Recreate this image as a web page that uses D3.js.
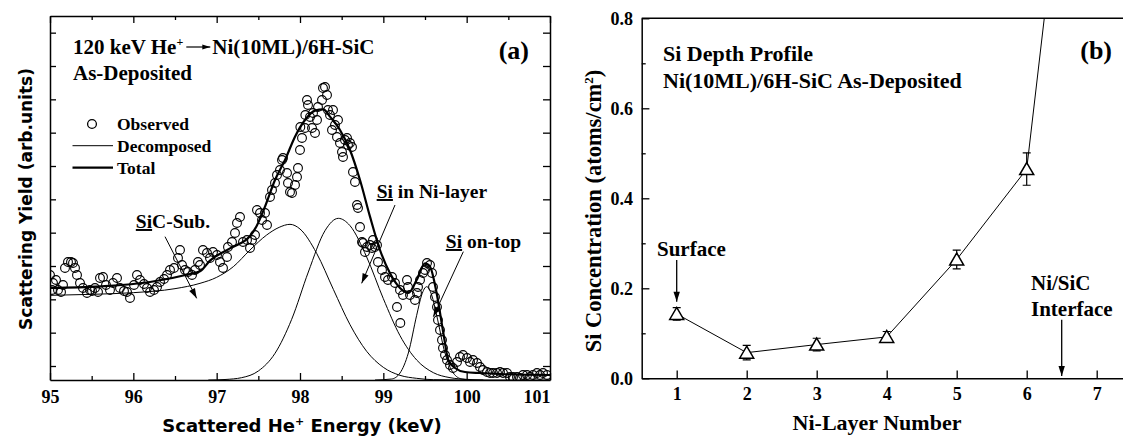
<!DOCTYPE html>
<html><head><meta charset="utf-8">
<script src="https://cdn.jsdelivr.net/npm/d3@7"></script>
<style>
body{margin:0;background:#fff;}
svg{display:block;}
text{font-family:"Liberation Serif","Times New Roman",serif;font-weight:bold;fill:#000;}
</style></head><body>
<svg id="chart" width="1123" height="439"></svg>
<script>
// ---------------- Panel (a) data ----------------
const energyTicks = [95, 96, 97, 98, 99, 100, 101];
const energyMinorTicks = [95.5, 96.5, 97.5, 98.5, 99.5, 100.5];
const yieldTicks = [42, 142, 242, 342, 442, 542, 642, 742, 842, 942, 1042];

// observed yield: [energy keV, yield arb.units]
const observed = [
[95.000,315],[95.024,270],[95.036,291],[95.072,300],[95.096,270],[95.132,264],[95.156,285],[95.180,336],
[95.216,354],[95.252,354],[95.276,351],[95.300,336],[95.324,315],[95.360,291],[95.396,276],[95.444,261],
[95.480,270],[95.504,267],[95.540,276],[95.576,264],[95.600,306],[95.636,309],[95.672,285],[95.720,270],
[95.756,291],[95.804,306],[95.840,276],[95.888,267],[95.924,264],[95.960,246],[96.008,285],[96.044,315],
[96.080,300],[96.128,288],[96.164,276],[96.200,264],[96.248,270],[96.284,279],[96.320,294],[96.368,303],
[96.404,315],[96.440,330],[96.488,336],[96.536,366],[96.560,390],[96.584,345],[96.620,330],[96.656,324],
[96.704,315],[96.740,330],[96.776,354],[96.800,345],[96.836,390],[96.884,381],[96.920,366],[96.956,384],
[97.004,375],[97.040,354],[97.076,336],[97.124,369],[97.136,399],[97.184,414],[97.220,441],[97.244,471],
[97.280,489],[97.316,414],[97.364,420],[97.400,396],[97.424,420],[97.460,435],[97.484,510],[97.520,501],
[97.544,480],[97.580,501],[97.604,465],[97.640,549],[97.664,570],[97.700,591],[97.724,615],[97.760,630],
[97.784,660],[97.796,666],[97.844,621],[97.856,591],[97.880,564],[97.904,561],[97.940,585],[97.964,609],
[97.976,636],[98.000,690],[98.004,759],[98.024,726],[98.060,756],[98.064,795],[98.084,840],[98.096,825],
[98.120,789],[98.144,756],[98.156,801],[98.180,741],[98.204,780],[98.216,819],[98.264,840],[98.276,876],
[98.300,879],[98.324,855],[98.336,810],[98.360,795],[98.384,750],[98.396,810],[98.420,765],[98.444,729],
[98.456,780],[98.480,711],[98.504,684],[98.516,669],[98.540,720],[98.564,726],[98.576,705],[98.600,711],
[98.624,699],[98.636,624],[98.660,594],[98.684,525],[98.696,516],[98.720,459],[98.744,414],[98.756,411],
[98.780,384],[98.804,399],[98.840,405],[98.864,396],[98.876,420],[98.900,399],[98.924,405],[98.936,354],
[98.984,330],[99.020,309],[99.056,300],[99.104,309],[99.140,291],[99.164,219],[99.200,270],[99.204,171],
[99.236,255],[99.284,300],[99.296,279],[99.320,255],[99.380,240],[99.404,261],[99.416,279],[99.440,300],
[99.476,321],[99.500,330],[99.524,351],[99.560,345],[99.584,321],[99.596,279],[99.620,249],[99.644,219],
[99.656,180],[99.680,150],[99.704,120],[99.716,96],[99.740,75],[99.764,60],[99.800,45],[99.836,36],
[99.884,54],[99.920,69],[99.956,75],[100.004,66],[100.040,54],[100.076,60],[100.124,51],[100.160,39],
[100.196,30],[100.244,24],[100.280,21],[100.316,21],[100.364,21],[100.400,24],[100.436,21],[100.484,21],
[100.520,9],[100.556,9],[100.604,9],[100.640,6],[100.676,15],[100.724,15],[100.760,9],[100.796,15],
[100.844,21],[100.880,15],[100.916,21],[100.964,15]
];

// decomposed components and total fit
const sicSub = [[95.0,254],[95.5,257],[96.0,262],[96.5,274],[96.8,290],[97.0,308],[97.2,340],[97.4,390],
[97.6,435],[97.75,458],[97.88,467],[98.0,453],[98.2,380],[98.4,272],[98.6,166],[98.8,86],[99.0,38],
[99.2,14],[99.4,5],[99.6,1],[100.0,0],[101.0,0]];
const siNiLayer = [[96.9,0],[97.1,1.5],[97.3,7],[97.5,27],[97.7,80],[97.9,182],[98.1,324],[98.3,448],
[98.46,485],[98.6,463],[98.8,369],[99.0,244],[99.2,133],[99.4,60],[99.6,22],[99.8,7],[100.0,2],[100.2,0]];
const siOnTop = [[98.9,0],[99.1,3],[99.2,21],[99.3,81],[99.4,194],[99.46,255],[99.52,280],[99.58,255],
[99.64,194],[99.74,81],[99.84,21],[99.94,3],[100.05,0]];
const totalFit = [[95.0,276],[95.6,281],[96.2,294],[96.68,318],[96.8,326],[96.92,358],[97.16,395],
[97.4,432],[97.48,462],[97.58,520],[97.7,600],[97.82,660],[97.94,730],[98.06,780],[98.18,808],[98.28,812],
[98.36,790],[98.48,750],[98.6,690],[98.72,600],[98.84,490],[98.96,390],[99.08,320],[99.2,276],[99.3,261],
[99.4,300],[99.5,350],[99.56,340],[99.64,260],[99.72,141],[99.78,60],[99.86,36],[99.98,24],[100.16,21],
[100.4,18],[101.0,15]];

// ---------------- Panel (b) data ----------------
const layers = [1, 2, 3, 4, 5, 6, 7];
const siConc = [0.143, 0.057, 0.075, 0.092, 0.264, 0.465, 1.8];
const siErr = [0.014, 0.016, 0.014, 0.012, 0.021, 0.036, 0];
const layerTicks = [1, 2, 3, 4, 5, 6, 7];
const concTicks = [0, 0.2, 0.4, 0.6, 0.8];
const concMinorTicks = [0.1, 0.3, 0.5, 0.7];

// ---------------- drawing ----------------
const svg = d3.select("#chart");
const SERIF = '"Liberation Serif","Times New Roman",serif';
const SANS = '"DejaVu Sans",Verdana,sans-serif';

function arrow(g, x1, y1, x2, y2, len = 10, hw = 3.2, sw = 1) {
  g.append("line").attr("x1", x1).attr("y1", y1).attr("x2", x2).attr("y2", y2)
    .attr("stroke", "#000").attr("stroke-width", sw);
  const a = Math.atan2(y2 - y1, x2 - x1);
  const bx = x2 - len * Math.cos(a), by = y2 - len * Math.sin(a);
  const px = -Math.sin(a) * hw, py = Math.cos(a) * hw;
  g.append("path").attr("d", `M${x2},${y2}L${bx + px},${by + py}L${bx - px},${by - py}Z`).attr("fill", "#000");
}
function styleAxis(g, fs) {
  g.attr("font-family", null).attr("font-size", null);
  g.select(".domain").attr("stroke", "#000").attr("stroke-width", 1.5);
  g.selectAll(".tick line").attr("stroke", "#000").attr("stroke-width", 1.3);
  g.selectAll(".tick text").style("font-family", SERIF).style("font-weight", "bold").style("font-size", fs + "px");
}

// ===== Panel (a) =====
const xa = d3.scaleLinear().domain([95, 101]).range([50, 550]);
const ya = d3.scaleLinear().domain([0, 1092]).range([380, 16]);
const gA = svg.append("g");
gA.append("defs").append("clipPath").attr("id", "clipA").append("rect")
  .attr("x", 50).attr("y", 16).attr("width", 500).attr("height", 364);
const plotA = gA.append("g").attr("clip-path", "url(#clipA)");
const lineA = d3.line().x(d => xa(d[0])).y(d => ya(d[1])).curve(d3.curveMonotoneX);
[sicSub, siNiLayer, siOnTop].forEach(c => plotA.append("path").attr("d", lineA(c))
  .attr("fill", "none").attr("stroke", "#000").attr("stroke-width", 1));
plotA.append("path").attr("d", lineA(totalFit)).attr("fill", "none").attr("stroke", "#000").attr("stroke-width", 2.2);
plotA.selectAll("circle.obs").data(observed).join("circle").attr("class", "obs")
  .attr("cx", d => xa(d[0])).attr("cy", d => ya(d[1])).attr("r", 4.4)
  .attr("fill", "none").attr("stroke", "#000").attr("stroke-width", 1.1);

// axes (a)
const axB = gA.append("g").attr("transform", "translate(0,380)")
  .call(d3.axisBottom(xa).tickValues(energyTicks).tickSizeInner(-7).tickSizeOuter(0).tickPadding(10).tickFormat(d3.format("d")));
styleAxis(axB, 18);
axB.selectAll(".tick text").filter(d => d === 101).attr("text-anchor", "end");
const axBm = gA.append("g").attr("transform", "translate(0,380)")
  .call(d3.axisBottom(xa).tickValues(energyMinorTicks).tickSize(-4).tickFormat(""));
styleAxis(axBm, 18); axBm.select(".domain").remove();
const axT = gA.append("g").attr("transform", "translate(0,16)")
  .call(d3.axisTop(xa).tickValues(energyTicks).tickSizeInner(-7).tickSizeOuter(0).tickFormat(""));
styleAxis(axT, 18);
const axTm = gA.append("g").attr("transform", "translate(0,16)")
  .call(d3.axisTop(xa).tickValues(energyMinorTicks).tickSize(-4).tickFormat(""));
styleAxis(axTm, 18); axTm.select(".domain").remove();
const axL = gA.append("g").attr("transform", "translate(50,0)")
  .call(d3.axisLeft(ya).tickValues(yieldTicks).tickSizeInner(-6).tickSizeOuter(0).tickFormat(""));
styleAxis(axL, 18);
const axR = gA.append("g").attr("transform", "translate(550,0)")
  .call(d3.axisRight(ya).tickValues(yieldTicks).tickSizeInner(-7).tickSizeOuter(0).tickFormat(""));
styleAxis(axR, 18);

// axis titles (a)
gA.append("text").attr("transform", "translate(32,199) rotate(-90)").attr("text-anchor", "middle")
  .style("font-family", SANS).style("font-size", "17px").text("Scattering Yield (arb.units)");
const xt = gA.append("text").attr("x", 302).attr("y", 432).attr("text-anchor", "middle")
  .style("font-family", SANS).style("font-size", "18px");
xt.append("tspan").text("Scattered He");
xt.append("tspan").attr("dy", -7).style("font-size", "11px").text("+");
xt.append("tspan").attr("dy", 7).text(" Energy (keV)");

// title (a)
const t1 = gA.append("text").attr("x", 73).attr("y", 54).style("font-size", "21px");
t1.append("tspan").text("120 keV He");
t1.append("tspan").attr("dy", -8).style("font-size", "12px").text("+");
const t1len = t1.node().getComputedTextLength();
arrow(gA, 73 + t1len + 3, 47, 73 + t1len + 27, 47, 8, 2.6, 1.2);
gA.append("text").attr("x", 73 + t1len + 29).attr("y", 54).style("font-size", "21px").text("Ni(10ML)/6H-SiC");
gA.append("text").attr("x", 73).attr("y", 80).style("font-size", "21px").text("As-Deposited");
gA.append("text").attr("x", 529).attr("y", 59).attr("text-anchor", "end").style("font-size", "26px").text("(a)");

// legend (a)
gA.append("circle").attr("cx", 92).attr("cy", 124).attr("r", 4.4).attr("fill", "none").attr("stroke", "#000").attr("stroke-width", 1.3);
gA.append("text").attr("x", 117).attr("y", 129.5).style("font-size", "17.5px").text("Observed");
gA.append("line").attr("x1", 72.5).attr("x2", 113).attr("y1", 145.7).attr("y2", 145.7).attr("stroke", "#000").attr("stroke-width", 1);
gA.append("text").attr("x", 117).attr("y", 152).style("font-size", "17.5px").text("Decomposed");
gA.append("line").attr("x1", 72.5).attr("x2", 113).attr("y1", 167.7).attr("y2", 167.7).attr("stroke", "#000").attr("stroke-width", 2.2);
gA.append("text").attr("x", 117).attr("y", 174).style("font-size", "17.5px").text("Total");

// component annotations (a)
function annot(g, x, y, rest) {
  const t = g.append("text").attr("x", x).attr("y", y).style("font-size", "19.5px");
  t.append("tspan").style("text-decoration", "underline").text("Si");
  t.append("tspan").text(rest);
}
annot(gA, xa(96.03), ya(456), "C-Sub.");
arrow(gA, xa(96.38), ya(430), xa(96.76), ya(245));
annot(gA, xa(98.92), ya(546), " in Ni-layer");
arrow(gA, xa(99.14), ya(525), xa(98.74), ya(290));
annot(gA, xa(99.75), ya(396), " on-top");
arrow(gA, xa(99.96), ya(385), xa(99.6), ya(190));

// ===== Panel (b) =====
const xb = d3.scaleLinear().domain([0.5, 7.5]).range([641.7, 1131.7]);
const yb = d3.scaleLinear().domain([0, 0.8]).range([378.3, 18.3]);
const gB = svg.append("g");
gB.append("defs").append("clipPath").attr("id", "clipB").append("rect")
  .attr("x", 641.7).attr("y", 18.3).attr("width", 490).attr("height", 360);
const plotB = gB.append("g").attr("clip-path", "url(#clipB)");
const pts = layers.map((l, i) => ({ x: l, y: siConc[i], e: siErr[i] }));
plotB.append("path").attr("d", d3.line().x(d => xb(d.x)).y(d => yb(d.y))(pts))
  .attr("fill", "none").attr("stroke", "#000").attr("stroke-width", 1);
const eb = plotB.selectAll("g.eb").data(pts.filter(d => d.e > 0)).join("g").attr("class", "eb");
eb.append("line").attr("x1", d => xb(d.x)).attr("x2", d => xb(d.x)).attr("y1", d => yb(d.y - d.e)).attr("y2", d => yb(d.y + d.e)).attr("stroke", "#000").attr("stroke-width", 1.2);
eb.append("line").attr("x1", d => xb(d.x) - 4).attr("x2", d => xb(d.x) + 4).attr("y1", d => yb(d.y - d.e)).attr("y2", d => yb(d.y - d.e)).attr("stroke", "#000").attr("stroke-width", 1.2);
eb.append("line").attr("x1", d => xb(d.x) - 4).attr("x2", d => xb(d.x) + 4).attr("y1", d => yb(d.y + d.e)).attr("y2", d => yb(d.y + d.e)).attr("stroke", "#000").attr("stroke-width", 1.2);
plotB.selectAll("path.tri").data(pts).join("path").attr("class", "tri")
  .attr("transform", d => `translate(${xb(d.x)},${yb(d.y)})`)
  .attr("d", "M0,-6.5L7,5.5L-7,5.5Z").attr("fill", "#fff").attr("stroke", "#000").attr("stroke-width", 1.5);

// axes (b)
const bxB = gB.append("g").attr("transform", "translate(0,378.3)")
  .call(d3.axisBottom(xb).tickValues(layerTicks).tickSizeInner(-7.7).tickSizeOuter(0).tickPadding(9).tickFormat(d3.format("d")));
styleAxis(bxB, 18);
const byL = gB.append("g").attr("transform", "translate(641.7,0)")
  .call(d3.axisLeft(yb).tickValues(concTicks).tickSizeInner(-7.7).tickSizeOuter(0).tickPadding(8.7).tickFormat(d3.format(".1f")));
styleAxis(byL, 18);
const byLm = gB.append("g").attr("transform", "translate(641.7,0)")
  .call(d3.axisLeft(yb).tickValues(concMinorTicks).tickSize(-4).tickFormat(""));
styleAxis(byLm, 18); byLm.select(".domain").remove();
gB.append("path").attr("d", `M${xb(0.5)},${yb(0.8)}H${xb(7.5)}V${yb(0)}`).attr("fill", "none").attr("stroke", "#000").attr("stroke-width", 1.5);

// axis titles (b)
const ybt = gB.append("text").attr("transform", "translate(601,211) rotate(-90)").attr("text-anchor", "middle").style("font-size", "22.5px");
ybt.append("tspan").text("Si Concentration (atoms/cm");
ybt.append("tspan").attr("dy", -8).style("font-size", "13px").text("2");
ybt.append("tspan").attr("dy", 8).text(")");
gB.append("text").attr("x", 877).attr("y", 430).attr("text-anchor", "middle").style("font-size", "22px").text("Ni-Layer Number");

// titles (b)
gB.append("text").attr("x", 663).attr("y", 61).style("font-size", "22px").text("Si Depth Profile");
gB.append("text").attr("x", 663).attr("y", 88).style("font-size", "22px").text("Ni(10ML)/6H-SiC As-Deposited");
gB.append("text").attr("x", 1112).attr("y", 59).attr("text-anchor", "end").style("font-size", "26px").text("(b)");

// annotations (b)
gB.append("text").attr("x", 657).attr("y", 256).style("font-size", "21px").text("Surface");
arrow(gB, xb(1), yb(0.263), xb(1), yb(0.17), 10, 3.2, 1.3);
gB.append("text").attr("x", 1031).attr("y", 290).style("font-size", "21px").text("Ni/SiC");
gB.append("text").attr("x", 1031).attr("y", 316).style("font-size", "21px").text("Interface");
arrow(gB, xb(6.5), yb(0.13), xb(6.5), yb(0.005), 10, 3.2, 1.3);
</script>
</body></html>
